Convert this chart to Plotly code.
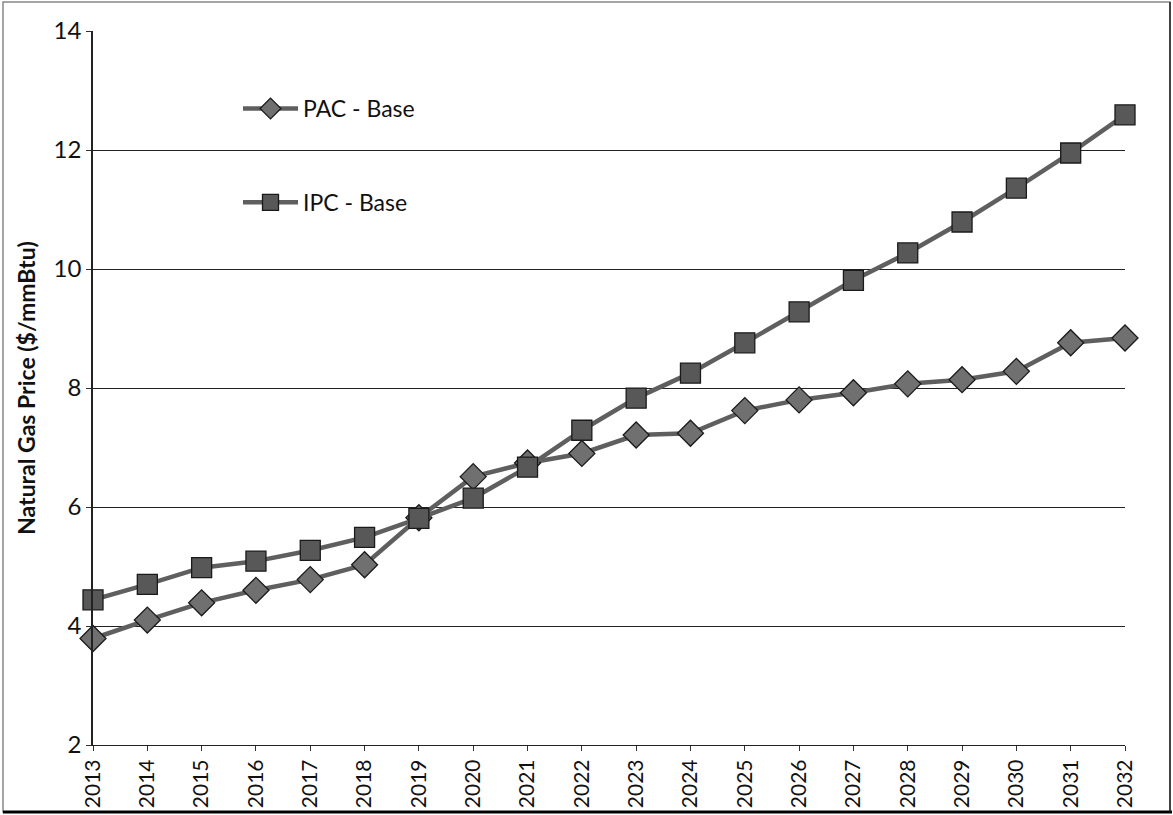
import plotly.graph_objects as go

years = list(range(2013, 2033))
pac_base = [3.79, 4.10, 4.39, 4.60, 4.78, 5.03, 5.82, 6.51, 6.74, 6.90, 7.21, 7.24, 7.62, 7.80, 7.92, 8.07, 8.14, 8.28, 8.76, 8.84]
ipc_base = [4.44, 4.70, 4.98, 5.09, 5.27, 5.49, 5.81, 6.15, 6.67, 7.29, 7.83, 8.25, 8.76, 9.28, 9.81, 10.27, 10.79, 11.36, 11.95, 12.59]
y_ticks = [2, 4, 6, 8, 10, 12, 14]

W, H = 1173, 815
L, R, T, B = 93, 48, 31, 70
pw, ph = W - L - R, H - T - B

def px_x(p):
    return (p - L) / pw

def px_y(p):
    return (H - B - p) / ph

font = "Lato, 'Open Sans', sans-serif"

fig = go.Figure()
fig.add_trace(go.Scatter(
    x=years, y=pac_base, name="PAC - Base", mode="lines+markers",
    line=dict(color="#5f5f5f", width=4.5),
    marker=dict(symbol="diamond", size=20, color="#707070", line=dict(color="#1a1a1a", width=1.3)),
    cliponaxis=False, legendgroup="a"))
fig.add_trace(go.Scatter(
    x=years, y=ipc_base, name="IPC - Base", mode="lines+markers",
    line=dict(color="#5f5f5f", width=4.5),
    marker=dict(symbol="square", size=20, color="#585858", line=dict(color="#1a1a1a", width=1.3)),
    cliponaxis=False, legendgroup="b"))

fig.update_layout(
    width=W, height=H,
    margin=dict(l=L, r=R, t=T, b=B, autoexpand=False),
    paper_bgcolor="white", plot_bgcolor="white",
    font=dict(family=font, color="#111", size=23),
    showlegend=True,
    legend=dict(x=px_x(238), y=px_y(87), xanchor="left", yanchor="top",
                bgcolor="rgba(0,0,0,0)", font=dict(size=23, family=font),
                tracegroupgap=61, traceorder="grouped", itemwidth=55),
    xaxis=dict(range=[2013, 2032], tickvals=years, ticktext=[str(y) for y in years],
               tickangle=-90, showgrid=False, zeroline=False, automargin=False,
               ticks="outside", ticklen=5, tickcolor="#333",
               tickfont=dict(size=21, family=font),
               showline=True, linecolor="#222", linewidth=1.2),
    yaxis=dict(range=[2, 14], tickvals=y_ticks, showgrid=True, gridcolor="#222", gridwidth=1.2,
               zeroline=False, showline=True, linecolor="#222", linewidth=1.5, automargin=False,
               ticks="outside", ticklen=5, tickcolor="#333",
               tickfont=dict(size=24, family=font),
               title=dict(text="<b>Natural Gas Price ($/mmBtu)</b>", font=dict(size=23, family=font), standoff=12)),
    shapes=[
        dict(type="rect", xref="paper", yref="paper",
             x0=px_x(3), x1=px_x(1170), y0=px_y(812), y1=px_y(2),
             line=dict(color="#888", width=1.5), layer="below"),
        dict(type="line", xref="paper", yref="paper",
             x0=px_x(3), x1=px_x(1172), y0=px_y(812), y1=px_y(812),
             line=dict(color="#000", width=3)),
        dict(type="line", xref="paper", yref="paper",
             x0=px_x(1170), x1=px_x(1170), y0=px_y(812), y1=px_y(2),
             line=dict(color="#222", width=1.5)),
    ],
)

fig.write_html("out.html", config={"displayModeBar": False},
               post_script="document.body.style.margin='0';document.body.style.overflow='hidden';")
